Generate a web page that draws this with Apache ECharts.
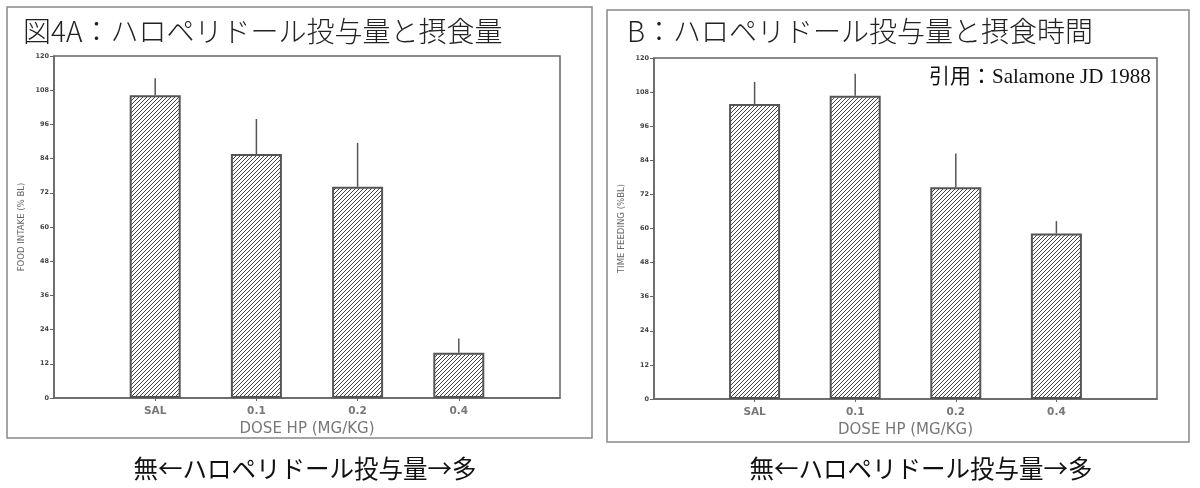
<!DOCTYPE html>
<html lang="ja">
<head>
<meta charset="UTF-8">
<title>ハロペリドール投与量と摂食</title>
<script src="https://cdn.jsdelivr.net/npm/echarts@6/dist/echarts.min.js"></script>
<style>
    html, body { margin: 0; padding: 0; background: #fff; }
    #main { width: 1200px; height: 488px; }
</style>
</head>
<body>
<div id="main"></div>
<script>
    // 用量カテゴリ
    var categories = ['SAL', '0.1', '0.2', '0.4'];
    // A: 摂食量 (% BL) 平均と SEM
    var intakeMean = [106.2, 85.6, 74.1, 15.9];
    var intakeSem = [6.0, 12.3, 15.4, 5.0];
    // B: 摂食時間 (% BL) 平均と SEM
    var timeMean = [103.8, 106.7, 74.5, 58.2];
    var timeSem = [7.8, 7.8, 11.9, 4.4];
    var yTicks = { min: 0, max: 120, step: 12 };

    // 斜線ハッチ
    var hatch = document.createElement('canvas');
    hatch.width = 4; hatch.height = 4;
    var hc = hatch.getContext('2d');
    hc.fillStyle = '#fff';
    hc.fillRect(0, 0, 4, 4);
    hc.strokeStyle = '#444';
    hc.lineWidth = 1;
    hc.beginPath();
    hc.moveTo(0, 4); hc.lineTo(4, 0);
    hc.moveTo(-1, 1); hc.lineTo(1, -1);
    hc.moveTo(3, 5); hc.lineTo(5, 3);
    hc.stroke();

    // 両端に空きスロットを入れる
    var xData = [''].concat(categories, ['']);

    function barData(means) {
        return means.map(function (v, i) { return [i + 1, v]; });
    }
    function errData(means, sems) {
        return means.map(function (v, i) { return [i + 1, v, v + sems[i]]; });
    }
    function errRender(params, api) {
        var p1 = api.coord([api.value(0), api.value(1)]);
        var p2 = api.coord([api.value(0), api.value(2)]);
        return {
            type: 'line',
            shape: { x1: p1[0], y1: p1[1], x2: p2[0], y2: p2[1] },
            style: { stroke: '#555', lineWidth: 1.5 }
        };
    }

    function xAxis(gi) {
        return {
            type: 'category', gridIndex: gi, data: xData, boundaryGap: false,
            axisLine: { lineStyle: { color: '#666', width: 1.5 } },
            axisTick: { length: 3, interval: function (i, v) { return v !== ''; }, lineStyle: { color: '#666' } },
            axisLabel: { color: '#777', fontSize: 10.5, fontWeight: 'bold', fontFamily: 'DejaVu Sans', margin: 8 },
            name: 'DOSE HP (MG/KG)', nameLocation: 'middle', nameGap: 22,
            nameTextStyle: { color: '#777', fontSize: 15, fontFamily: 'DejaVu Sans' }
        };
    }
    function yAxis(gi, name) {
        return {
            type: 'value', gridIndex: gi, min: yTicks.min, max: yTicks.max, interval: yTicks.step,
            axisLine: { show: true, lineStyle: { color: '#666', width: 1.5 } },
            axisTick: { show: true, length: 4, lineStyle: { color: '#666' } },
            axisLabel: { color: '#444', fontSize: 6.5, fontWeight: 'bold', fontFamily: 'DejaVu Sans', margin: 5 },
            splitLine: { show: false },
            name: name, nameLocation: 'middle', nameGap: 27,
            nameTextStyle: { color: '#666', fontSize: 9.5, fontFamily: 'DejaVu Sans Condensed, DejaVu Sans' }
        };
    }
    function barSeries(gi, means) {
        return {
            type: 'bar', xAxisIndex: gi, yAxisIndex: gi, barWidth: 51,
            data: barData(means),
            itemStyle: { color: { image: hatch, repeat: 'repeat' }, borderColor: '#555', borderWidth: 2 },
            silent: true, z: 2
        };
    }
    function errSeries(gi, means, sems) {
        return {
            type: 'custom', xAxisIndex: gi, yAxisIndex: gi,
            data: errData(means, sems), renderItem: errRender, silent: true, z: 1
        };
    }

    var chart = echarts.init(document.getElementById('main'));
    var cjk = 'Noto Sans CJK JP';
    chart.setOption({
        animation: false,
        backgroundColor: '#fff',
        title: [
            { text: '図4A：ハロペリドール投与量と摂食量', left: 18, top: 12,
              textStyle: { fontSize: 28, fontWeight: 300, color: '#222', fontFamily: cjk } },
            { text: 'B：ハロペリドール投与量と摂食時間', left: 622, top: 12,
              textStyle: { fontSize: 28, fontWeight: 300, color: '#222', fontFamily: cjk } },
            { text: '無←ハロペリドール投与量→多', left: 300, top: 451, textAlign: 'center',
              textStyle: { fontSize: 24.5, fontWeight: 'normal', color: '#111', fontFamily: cjk } },
            { text: '無←ハロペリドール投与量→多', left: 916, top: 451, textAlign: 'center',
              textStyle: { fontSize: 24.5, fontWeight: 'normal', color: '#111', fontFamily: cjk } },
            { text: '引用：Salamone JD 1988', left: 924, top: 62,
              textStyle: { fontSize: 21, fontWeight: 'normal', color: '#111', fontFamily: 'Liberation Serif, Noto Sans CJK JP' } }
        ],
        graphic: [
            { type: 'rect', shape: { x: 7, y: 7, width: 585, height: 431 },
              style: { fill: null, stroke: '#888', lineWidth: 1.5 }, silent: true },
            { type: 'rect', shape: { x: 607, y: 10, width: 582, height: 432 },
              style: { fill: null, stroke: '#888', lineWidth: 1.5 }, silent: true }
        ],
        grid: [
            { left: 54, right: 640, top: 56, bottom: 90, show: true, borderColor: '#666', borderWidth: 1.5 },
            { left: 654, right: 43, top: 58, bottom: 89, show: true, borderColor: '#666', borderWidth: 1.5 }
        ],
        xAxis: [xAxis(0), xAxis(1)],
        yAxis: [yAxis(0, 'FOOD INTAKE (% BL)'), yAxis(1, 'TIME FEEDING (%BL)')],
        series: [
            errSeries(0, intakeMean, intakeSem),
            barSeries(0, intakeMean),
            errSeries(1, timeMean, timeSem),
            barSeries(1, timeMean)
        ]
    });
</script>
</body>
</html>
